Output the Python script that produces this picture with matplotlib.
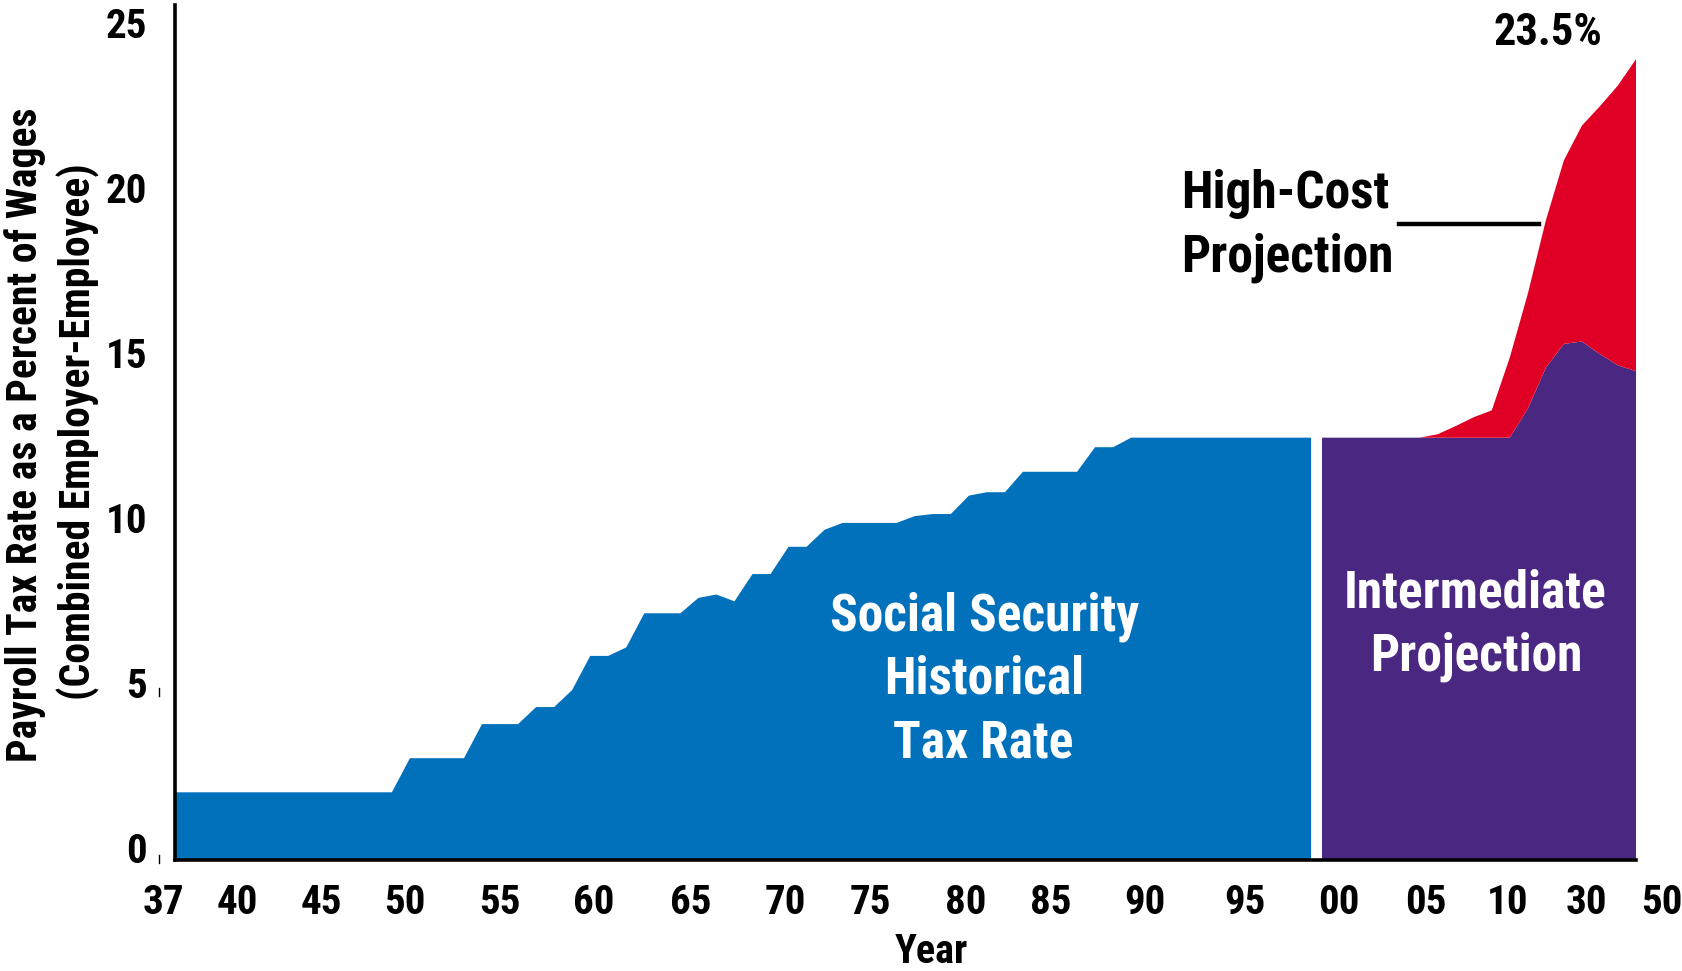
import numpy as np
import matplotlib
matplotlib.use("Agg")
import matplotlib.pyplot as plt
from matplotlib import font_manager as fm
from matplotlib.lines import Line2D

# ---------------- data ----------------
hist_years = list(range(1937, 2001))
hist_rates = [
    2.0, 2.0, 2.0, 2.0, 2.0, 2.0, 2.0, 2.0, 2.0, 2.0, 2.0, 2.0, 2.0,   # 1937-49
    3.0, 3.0, 3.0, 3.0,                                                # 1950-53
    4.0, 4.0, 4.0,                                                     # 1954-56
    4.5, 4.5,                                                          # 1957-58
    5.0,                                                               # 1959
    6.0, 6.0,                                                          # 1960-61
    6.25,                                                              # 1962
    7.25, 7.25, 7.25,                                                  # 1963-65
    7.7, 7.8, 7.6,                                                     # 1966-68
    8.4, 8.4,                                                          # 1969-70
    9.2, 9.2,                                                          # 1971-72
    9.7,                                                               # 1973
    9.9, 9.9, 9.9, 9.9,                                                # 1974-77
    10.1,                                                              # 1978
    10.16, 10.16,                                                      # 1979-80
    10.7,                                                              # 1981
    10.8, 10.8,                                                        # 1982-83
    11.4, 11.4, 11.4, 11.4,                                            # 1984-87
    12.12, 12.12,                                                      # 1988-89
    12.4, 12.4, 12.4, 12.4, 12.4, 12.4, 12.4, 12.4, 12.4, 12.4, 12.4,  # 1990-2000
]

proj_years = [2000, 2001, 2002, 2003, 2004, 2005, 2006, 2007, 2008, 2009, 2010,
              2015, 2020, 2025, 2030, 2035, 2040, 2045, 2050]
intermediate = [12.4, 12.4, 12.4, 12.4, 12.4, 12.4, 12.4, 12.4, 12.4, 12.4, 12.4,
                12.4, 13.25, 14.45, 15.15, 15.22, 14.85, 14.52, 14.35]
high_cost = [12.4, 12.4, 12.4, 12.4, 12.4, 12.4, 12.4, 12.5, 12.74, 13.0, 13.2,
             14.75, 16.62, 18.77, 20.53, 21.55, 22.12, 22.73, 23.5]

tick_years = [1937, 1940, 1945, 1950, 1955, 1960, 1965, 1970, 1975, 1980, 1985,
              1990, 1995, 2000, 2005, 2010, 2030, 2050]
tick_labels = ["37", "40", "45", "50", "55", "60", "65", "70", "75", "80", "85",
               "90", "95", "00", "05", "10", "30", "50"]
y_ticks = [0, 5, 10, 15, 20, 25]
y_tick_labels = ["0", "5", "10", "15", "20", "25"]
peak_label = "23.5%"

# style: horizontal pixel nudges of the hand-placed year labels
label_nudge_px = [-12, 8, 2, -5, 0, 4, 11, 15, 10, 15, 10, 14, 24, 28, 25, 16, 23, 26]

# ---------------- fonts ----------------
names = {f.name for f in fm.fontManager.ttflist}
fam = None
for n in ["Roboto Condensed", "Liberation Sans Narrow", "Open Sans Condensed",
          "Noto Sans Condensed", "DejaVu Sans Condensed"]:
    if n in names:
        fam = n
        break
if fam is None:
    fam = "Liberation Sans"
FONT = dict(family=[fam, "DejaVu Sans"], weight="bold")

BLUE = "#0271BC"
PURPLE = "#4A2882"
RED = "#E00025"

W, H = 1682, 971
fig = plt.figure(figsize=(W / 100, H / 100), dpi=100)

# axes placement (pixel geometry of the reference)
x0_px, x1_px = 175.0, 1635.5
y0_px = 860.0
px_per_unit = 34.1
ytop = 25.08
ax = fig.add_axes([x0_px / W, 1 - y0_px / H, (x1_px - x0_px) / W,
                   ytop * px_per_unit / H])

BREAK = 2010
START = 1937


def fwd(y):
    y = np.asarray(y, float)
    return np.where(y <= BREAK, y - START, (BREAK - START) + (y - BREAK) / 5.0)


def inv(p):
    p = np.asarray(p, float)
    return np.where(p <= BREAK - START, p + START, BREAK + (p - (BREAK - START)) * 5.0)


ax.set_xscale("function", functions=(fwd, inv))
ax.set_xlim(1937, 2050)
ax.set_ylim(0, ytop)

ax.fill_between(hist_years, 0, hist_rates, color=BLUE, lw=0, zorder=1)
ax.fill_between(proj_years, 0, intermediate, color=PURPLE, lw=0, zorder=1)
ax.fill_between(proj_years, intermediate, high_cost, color=RED, lw=0, zorder=1)
# white separator between history and projection
ax.axvspan(2000, 2000.64, ymin=0, ymax=13.5 / ytop, color="white", lw=0, zorder=2)

for s in ["top", "right"]:
    ax.spines[s].set_visible(False)
for s in ["left", "bottom"]:
    ax.spines[s].set_linewidth(2.6)
    ax.spines[s].set_color("black")
    ax.spines[s].set_zorder(3)
ax.set_xticks([])
ax.set_yticks([])
ax.patch.set_alpha(0)

# x tick labels
for yr, lab, nudge in zip(tick_years, tick_labels, label_nudge_px):
    ax.annotate(lab, xy=(yr, 0), xycoords="data", xytext=(nudge, -54),
                textcoords="offset pixels", ha="center", va="baseline",
                fontsize=29.5, annotation_clip=False, **FONT)

# y tick labels (slightly compressed, as in the reference)
for v, lab in zip(y_ticks, y_tick_labels):
    ypx = 862.5 - v * 32.96
    fig.text(147 / W, 1 - ypx / H, lab, ha="right", va="baseline",
             fontsize=29.5, **FONT)

# small stray marks near the y labels
for yc in (692, 859):
    fig.add_artist(Line2D([159 / W, 159 / W], [1 - (yc - 4) / H, 1 - (yc + 4) / H],
                          color="black", lw=1.0))

# axis titles
fig.text(931 / W, 1 - 963 / H, "Year", ha="center", va="baseline",
         fontsize=29, **FONT)
fig.text(37.5 / W, 1 - 434.5 / H, "Payroll Tax Rate as a Percent of Wages",
         rotation=90, rotation_mode="anchor", ha="center", va="baseline",
         fontsize=30, **FONT)
fig.text(91 / W, 1 - 432 / H, "(Combined Employer-Employee)",
         rotation=90, rotation_mode="anchor", ha="center", va="baseline",
         fontsize=30, **FONT)

# area labels
for txt, cx, by in [("Social Security", 985, 630), ("Historical", 984, 694),
                    ("Tax Rate", 983, 757)]:
    fig.text(cx / W, 1 - by / H, txt, ha="center", va="baseline", color="white",
             fontsize=37, **FONT)
for txt, cx, by in [("Intermediate", 1475.5, 607), ("Projection", 1476.5, 670)]:
    fig.text(cx / W, 1 - by / H, txt, ha="center", va="baseline", color="white",
             fontsize=37, **FONT)
for txt, cx, by in [("High-Cost", 1285, 208), ("Projection", 1287, 271)]:
    fig.text(cx / W, 1 - by / H, txt, ha="center", va="baseline", color="black",
             fontsize=37, **FONT)

# leader line for the high-cost label
fig.add_artist(Line2D([1399 / W, 1539 / W], [1 - 224 / H, 1 - 224 / H],
                      color="black", lw=3.2))

# peak value label
fig.text(1548 / W, 1 - 45 / H, peak_label, ha="center", va="baseline",
         fontsize=32, **FONT)

fig.savefig("out.png", dpi=100)
